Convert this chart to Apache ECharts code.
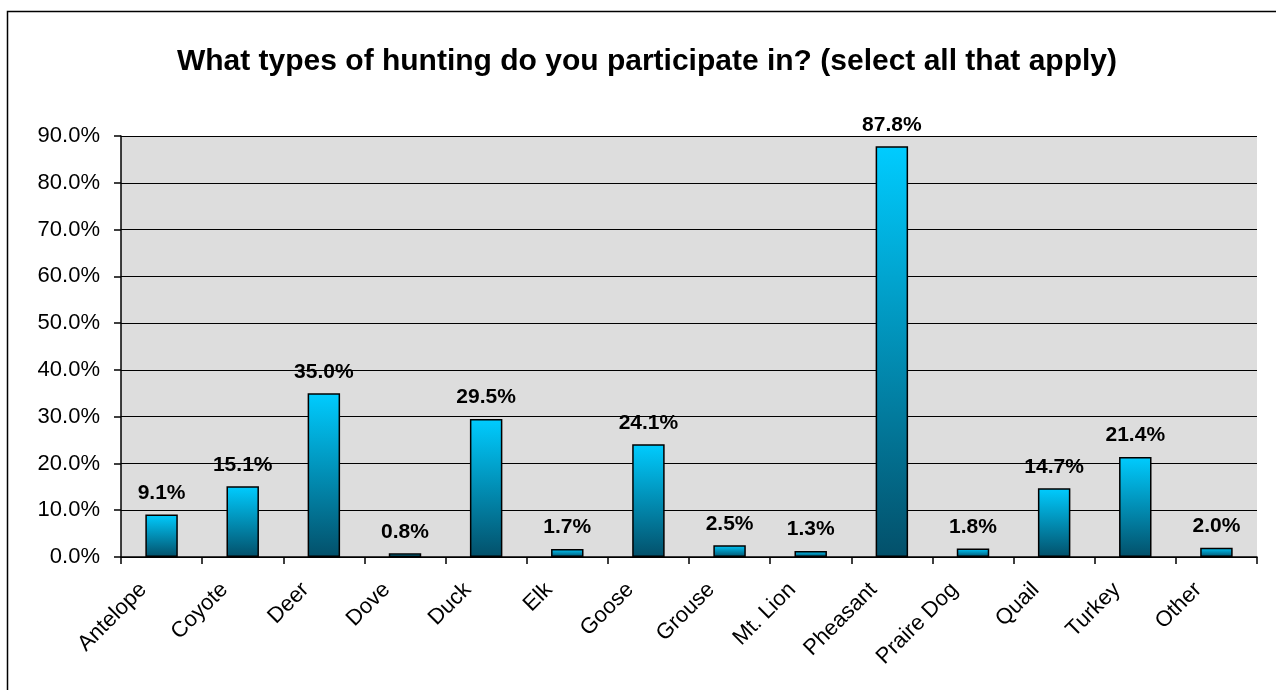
<!DOCTYPE html>
<html>
<head>
<meta charset="utf-8">
<title>Hunting types</title>
<script src="https://cdn.jsdelivr.net/npm/echarts@6/dist/echarts.min.js"></script>
<style>
  html, body { margin: 0; padding: 0; background: #ffffff; }
  #chart { width: 1276px; height: 690px; }
</style>
</head>
<body>
<div id="chart"></div>
<script>
// Survey answers: share of respondents per hunting type
const categories = ['Antelope', 'Coyote', 'Deer', 'Dove', 'Duck', 'Elk', 'Goose', 'Grouse', 'Mt. Lion', 'Pheasant', 'Praire Dog', 'Quail', 'Turkey', 'Other'];
const shares = [9.1, 15.1, 35.0, 0.8, 29.5, 1.7, 24.1, 2.5, 1.3, 87.8, 1.8, 14.7, 21.4, 2.0];
const yTicks = { min: 0, max: 90, step: 10 };
const titleText = 'What types of hunting do you participate in? (select all that apply)';

const FONT = '"Liberation Sans", Arial, sans-serif';
const pct = v => Number(v).toFixed(1) + '%';

const chart = echarts.init(document.getElementById('chart'), null, { renderer: 'canvas' });

chart.setOption({
  backgroundColor: '#ffffff',
  animation: false,
  title: {
    text: titleText,
    left: 642,
    textAlign: 'center',
    top: 42,
    textStyle: { fontFamily: FONT, fontSize: 30, fontWeight: 'bold', color: '#000' }
  },
  graphic: [{
    type: 'rect',
    shape: { x: 7.5, y: 11.5, width: 1400, height: 800 },
    style: { fill: 'none', stroke: '#000', lineWidth: 1.5 },
    silent: true,
    z: 100
  }],
  grid: {
    left: 121, right: 19, top: 136, bottom: 133,
    show: true, backgroundColor: '#DDDDDD', borderWidth: 0,
    containLabel: false
  },
  xAxis: {
    type: 'category',
    data: categories,
    axisLine: { show: true, lineStyle: { color: '#000', width: 1.5 } },
    axisTick: { show: true, length: 7, inside: false, lineStyle: { color: '#000', width: 1.5 } },
    axisLabel: {
      interval: 0, rotate: 45, margin: 11,
      padding: [0, 26, 0, 0],
      fontFamily: FONT, fontSize: 22, color: '#000'
    },
    splitLine: { show: false }
  },
  yAxis: {
    type: 'value',
    min: yTicks.min, max: yTicks.max, interval: yTicks.step,
    axisLine: { show: true, lineStyle: { color: '#000', width: 1.5 } },
    axisTick: { show: true, length: 7, inside: false, lineStyle: { color: '#000', width: 1.5 } },
    axisLabel: {
      formatter: pct, margin: 21,
      fontFamily: FONT, fontSize: 22, color: '#000'
    },
    splitLine: { show: true, lineStyle: { color: '#000', width: 1.2 } }
  },
  series: [{
    type: 'bar',
    data: shares,
    barWidth: '40%',
    itemStyle: {
      color: new echarts.graphic.LinearGradient(0, 0, 0, 1, [
        { offset: 0, color: '#00CCFF' },
        { offset: 1, color: '#03506A' }
      ]),
      borderColor: '#000',
      borderWidth: 1.5
    },
    label: {
      show: true, position: 'top', distance: 11,
      formatter: p => pct(p.value),
      fontFamily: FONT, fontSize: 21, fontWeight: 'bold', color: '#000'
    }
  }]
});
</script>
</body>
</html>
